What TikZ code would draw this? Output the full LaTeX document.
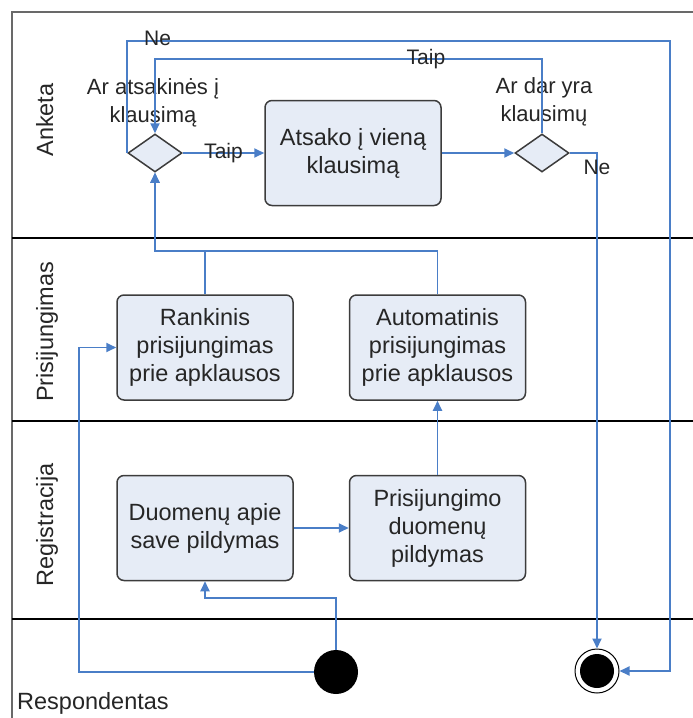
\documentclass[tikz,border=0pt]{standalone}
\usepackage{fontspec}
\setmainfont{Liberation Sans}
\usepackage{tikz}
\usetikzlibrary{shapes.geometric, arrows.meta, positioning}
\definecolor{flowblue}{RGB}{74, 126, 199}
\definecolor{actfill}{RGB}{230, 236, 246}
\definecolor{actline}{RGB}{60, 60, 60}
\definecolor{framegray}{RGB}{105, 105, 105}

\begin{document}
\begin{tikzpicture}[
    x=1pt, y=-1pt,
    node distance=55pt,
    act/.style={rectangle, draw=actline, fill=actfill, line width=1.5pt,
                minimum width=176pt, minimum height=105pt, inner sep=2pt,
                align=center, rounded corners=7pt, text=black!85,
                font=\fontsize{23.5}{28}\selectfont},
    decision/.style={diamond, draw=actline, fill=actfill, line width=1.5pt,
                minimum width=54pt, minimum height=38pt, inner sep=0pt},
    question/.style={align=center, inner sep=0pt, text=black!85,
                font=\fontsize{22}{28}\selectfont},
    lanelabel/.style={inner sep=0pt, text=black!85,
                font=\fontsize{23.5}{28}\selectfont},
    guard/.style={inner sep=0pt, text=black!85,
                font=\fontsize{21}{25}\selectfont},
    lane/.style={line width=1.5pt, black},
    flow/.style={-{Triangle[length=10pt, width=9pt]}, line width=1.8pt, flowblue}
]
\useasboundingbox (0,0) rectangle (693,718);

% Swimlanes
\draw[line width=2.4pt, framegray] (693,12) -- (12,12) -- (12,718);
\draw[lane] (12,238) -- (693,238);
\draw[lane] (12,421) -- (693,421);
\draw[lane] (12,619) -- (693,619);
\node[lanelabel, rotate=90, anchor=base] (anketaLabel) at (53,120) {Anketa};
\node[lanelabel, rotate=90, anchor=base] (prisLabel) at (53,332) {Prisijungimas};
\node[lanelabel, rotate=90, anchor=base] (regLabel) at (53,525) {Registracija};
\node[lanelabel, anchor=base west] (respLabel) at (17,709) {Respondentas};

% Anketa
\node[decision] (askDec) at (155,153) {};
\node[act] (answer) at (353,153) {Atsako į vieną\\klausimą};
\node[decision] (moreDec) at (542,153) {};
\node[question] (askQ) at (153,103) {Ar atsakinės į\\klausimą};
\node[question] (moreQ) at (544,102) {Ar dar yra\\klausimų};

% Prisijungimas
\node[act] (manual) at (205,347.5) {Rankinis\\prisijungimas\\prie apklausos};
\node[act, right=55pt of manual] (auto) {Automatinis\\prisijungimas\\prie apklausos};

% Registracija
\node[act, below=74pt of manual] (selfData) {Duomenų apie\\save pildymas};
\node[act, right=55pt of selfData] (loginData) {Prisijungimo\\duomenų\\pildymas};

% Respondentas
\node[circle, fill=black, minimum size=44pt, inner sep=0pt] (start) at (336,672) {};
\node[circle, draw=black, line width=1pt, fill=white, minimum size=44pt, inner sep=0pt] (fin) at (597,671) {};
\node[circle, fill=black, minimum size=34pt, inner sep=0pt] (finDot) at (fin) {};
\coordinate (neCorner) at (670,41);

% Connections
\draw[flow] (askDec.east) -- node[guard] {Taip} (answer.west);
\draw[flow] (answer.east) -- (moreDec.west);
\draw[flow] (moreDec.north) -- ++(0,-74) -| node[guard, pos=0.15] {Taip} (askDec.north);
\draw[flow] (askDec.west) |- node[guard, pos=0.528, yshift=3pt] {Ne} (neCorner) |- (fin.east);
\draw[flow] (moreDec.east) -| node[guard, pos=0.515] {Ne} (fin.north);
\draw[flow] (manual.north) -- ++(0,-43) -| (askDec.south);
\draw[flow] (auto.north) -- ++(0,-43) -| (askDec.south);
\draw[flow] (loginData) -- (auto);
\draw[flow] (selfData) -- (loginData);
\draw[flow] (start.north) -- ++(0,-52) -| (selfData.south);
\draw[flow] (start.west) -- ++(-235,0) |- (manual.west);

\end{tikzpicture}
\end{document}
